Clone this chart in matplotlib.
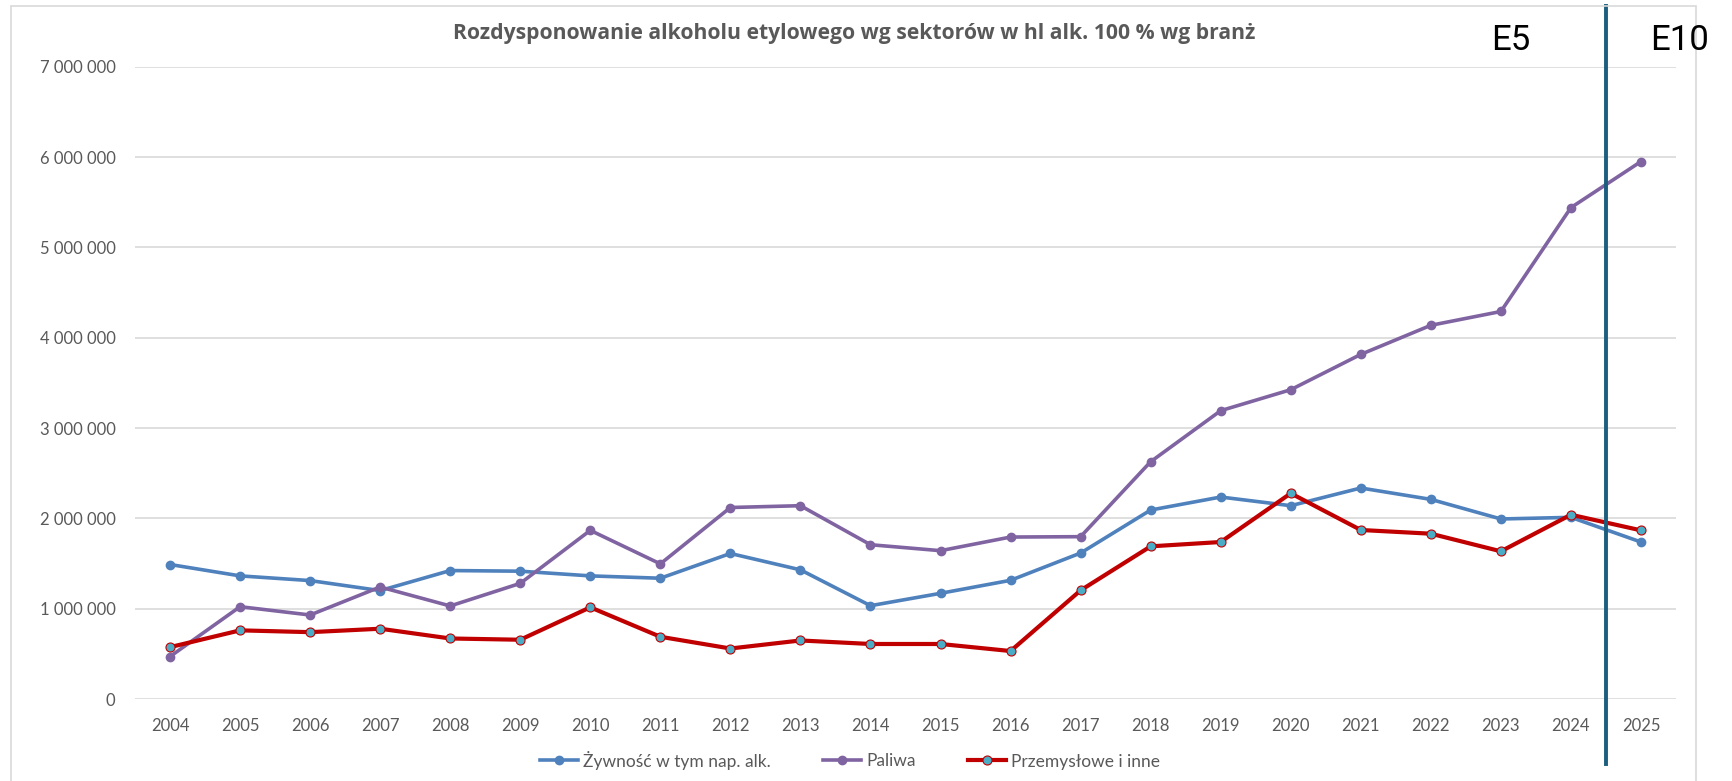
import matplotlib
matplotlib.use("Agg")
from matplotlib import pyplot as plt
from matplotlib.patches import Rectangle
from matplotlib.ticker import FuncFormatter

plt.rcParams['font.family'] = ['Lato', 'DejaVu Sans']

# data (hl alk. 100 %)
years = ['2004', '2005', '2006', '2007', '2008', '2009', '2010', '2011', '2012', '2013', '2014',
         '2015', '2016', '2017', '2018', '2019', '2020', '2021', '2022', '2023', '2024', '2025']
zywnosc = [1489000, 1363000, 1311000, 1200000, 1422000, 1415000, 1363000, 1337000, 1611000, 1430000, 1033000,
           1170000, 1314000, 1616000, 2092000, 2236000, 2140000, 2336000, 2210000, 1993000, 2011000, 1738000]
paliwa = [470000, 1022000, 930000, 1240000, 1030000, 1280000, 1867000, 1496000, 2120000, 2140000, 1708000,
          1642000, 1793000, 1797000, 2627000, 3192000, 3424000, 3815000, 4137000, 4290000, 5440000, 5950000]
przemyslowe = [574000, 760000, 740000, 778000, 670000, 656000, 1015000, 689000, 559000, 648000, 609000,
               609000, 531000, 1203000, 1690000, 1738000, 2277000, 1871000, 1830000, 1635000, 2040000, 1867000]

labels = ['Żywność w tym nap. alk.', 'Paliwa', 'Przemysłowe i inne']
title = 'Rozdysponowanie alkoholu etylowego wg sektorów w hl alk. 100 % wg branż'

W, H = 1732, 781
fig = plt.figure(figsize=(W / 100, H / 100), dpi=100)

# light frame round the chart
fig.patches.append(Rectangle((11 / W, -0.05), (1696 - 11) / W, 1.05 - 6 / H, transform=fig.transFigure,
                             fill=False, edgecolor='#D9D9D9', linewidth=1.2))

ax = fig.add_axes([135 / W, 1 - 699 / H, (1676 - 135) / W, (699 - 66.7) / H])
x = list(range(len(years)))

ax.plot(x, zywnosc, color='#4F81BD', linewidth=2.6, marker='o', markersize=6, label=labels[0], zorder=3)
ax.plot(x, paliwa, color='#8064A2', linewidth=2.6, marker='o', markersize=6, label=labels[1], zorder=3)
ax.plot(x, przemyslowe, color='#C00000', linewidth=3, marker='o', markersize=6.5,
        markerfacecolor='#4BACC6', markeredgecolor='#C00000', markeredgewidth=0.8, label=labels[2], zorder=4)

ax.set_xlim(-0.5, len(years) - 0.5)
ax.set_ylim(0, 7000000)
ax.set_yticks([0, 1000000, 2000000, 3000000, 4000000, 5000000, 6000000, 7000000])
ax.yaxis.set_major_formatter(FuncFormatter(lambda v, p: f"{int(v):,}".replace(",", " ")))
ax.set_xticks(x)
ax.set_xticklabels(years)
ax.grid(axis='y', color='#D9D9D9', linewidth=1.2)
ax.set_axisbelow(True)
for s in ax.spines.values():
    s.set_visible(False)
ax.tick_params(length=0, colors='#595959', labelsize=12)
ax.tick_params(axis='x', pad=14)
ax.tick_params(axis='y', pad=14)

# E5 / E10 split
ax.axvline(20.5, ymin=(699 - 764) / 632.3, ymax=(699 - 6) / 632.3, color='#1B5E7E', linewidth=2.8,
           clip_on=False, zorder=5)

fig.text(854 / W, 1 - 33 / H, title, ha='center', va='center', fontsize=15.2, fontweight='bold',
         color='#595959', family='Open Sans')
fig.text(1511 / W, 1 - 40 / H, 'E5', ha='center', va='center', fontsize=25, color='black', family='Roboto')
fig.text(1680 / W, 1 - 40 / H, 'E10', ha='center', va='center', fontsize=25, color='black', family='Roboto')

fig.legend(loc='center', bbox_to_anchor=(850 / W, 1 - 760 / H), ncol=3, frameon=False, fontsize=12.5,
           labelcolor='#595959', handlelength=2.2, handletextpad=0.3, columnspacing=3)

fig.savefig('out.png', dpi=100)
